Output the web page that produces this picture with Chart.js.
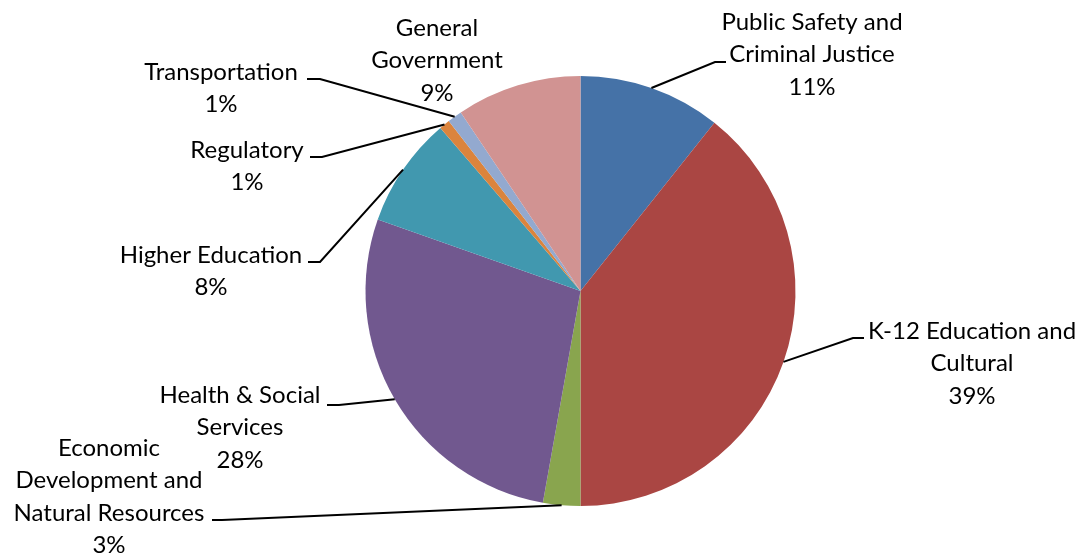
<!DOCTYPE html>
<html>
<head>
<meta charset="utf-8">
<script src="https://cdn.jsdelivr.net/npm/chart.js@4/dist/chart.umd.min.js"></script>
<style>
  html, body { margin: 0; padding: 0; background: #fff; }
  #wrap { width: 1081px; height: 556px; }
</style>
</head>
<body>
<div id="wrap"><canvas id="budgetPie" width="1081" height="556"></canvas></div>
<script>
// Budget share by program area (percent of total)
const categories = [
    ['Public Safety and', 'Criminal Justice'],
    ['K-12 Education and', 'Cultural'],
    ['Economic', 'Development and', 'Natural Resources'],
    ['Health & Social', 'Services'],
    ['Higher Education'],
    ['Regulatory'],
    ['Transportation'],
    ['General', 'Government']
];
const shares = [10.7, 39.3, 2.8, 27.6, 8.3, 0.8, 1.1, 9.4];
const sliceColors = ['#4572A7', '#AA4643', '#89A54E', '#71588F', '#4198AF', '#DB843D', '#93A9CF', '#D19392'];

// where each label sits (text centre x, first line y) and where its leader line stops
const labelSpots = [
    { x: 812, y: 22,  stub: [715, 726], sy: 62 },
    { x: 972, y: 331, stub: [853, 864], sy: 338 },
    { x: 109, y: 448, stub: [222, 212], sy: 520 },
    { x: 240, y: 395, stub: [339, 327], sy: 405 },
    { x: 211, y: 255, stub: [320, 308], sy: 262 },
    { x: 247, y: 150, stub: [322, 310], sy: 157 },
    { x: 221, y: 72,  stub: [320, 307], sy: 79 },
    { x: 437, y: 28,  stub: null }
];
const lineGap = 32.5;

// labels outside the pie with leader lines
const outsideLabels = {
    id: 'outsideLabels',
    afterDatasetsDraw(chart) {
        const ctx = chart.ctx;
        const arcs = chart.getDatasetMeta(0).data;
        const total = shares.reduce((a, b) => a + b, 0);
        ctx.save();
        ctx.font = '24px Lato, Carlito, Calibri, sans-serif';
        ctx.fillStyle = '#000';
        ctx.textAlign = 'center';
        ctx.textBaseline = 'middle';
        ctx.strokeStyle = '#000';
        ctx.lineWidth = 2;
        arcs.forEach((arc, i) => {
            const p = arc.getProps(['x', 'y', 'startAngle', 'endAngle', 'outerRadius'], true);
            const spot = labelSpots[i];
            if (spot.stub) {
                const mid = (p.startAngle + p.endAngle) / 2;
                const ex = p.x + Math.cos(mid) * p.outerRadius;
                const ey = p.y + Math.sin(mid) * p.outerRadius;
                ctx.beginPath();
                ctx.moveTo(ex, ey);
                ctx.lineTo(spot.stub[0], spot.sy);
                ctx.lineTo(spot.stub[1], spot.sy);
                ctx.stroke();
            }
            const lines = categories[i].concat([Math.round(shares[i] / total * 100) + '%']);
            lines.forEach((t, k) => ctx.fillText(t, spot.x, spot.y + k * lineGap));
        });
        ctx.restore();
    }
};

new Chart(document.getElementById('budgetPie'), {
    type: 'pie',
    data: {
        labels: categories,
        datasets: [{
            data: shares,
            backgroundColor: sliceColors,
            borderWidth: 0
        }]
    },
    options: {
        responsive: false,
        animation: false,
        layout: { padding: { top: 76, bottom: 50, left: 80, right: 0 } },
        plugins: {
            legend: { display: false },
            tooltip: { enabled: false }
        }
    },
    plugins: [outsideLabels]
});
</script>
</body>
</html>
